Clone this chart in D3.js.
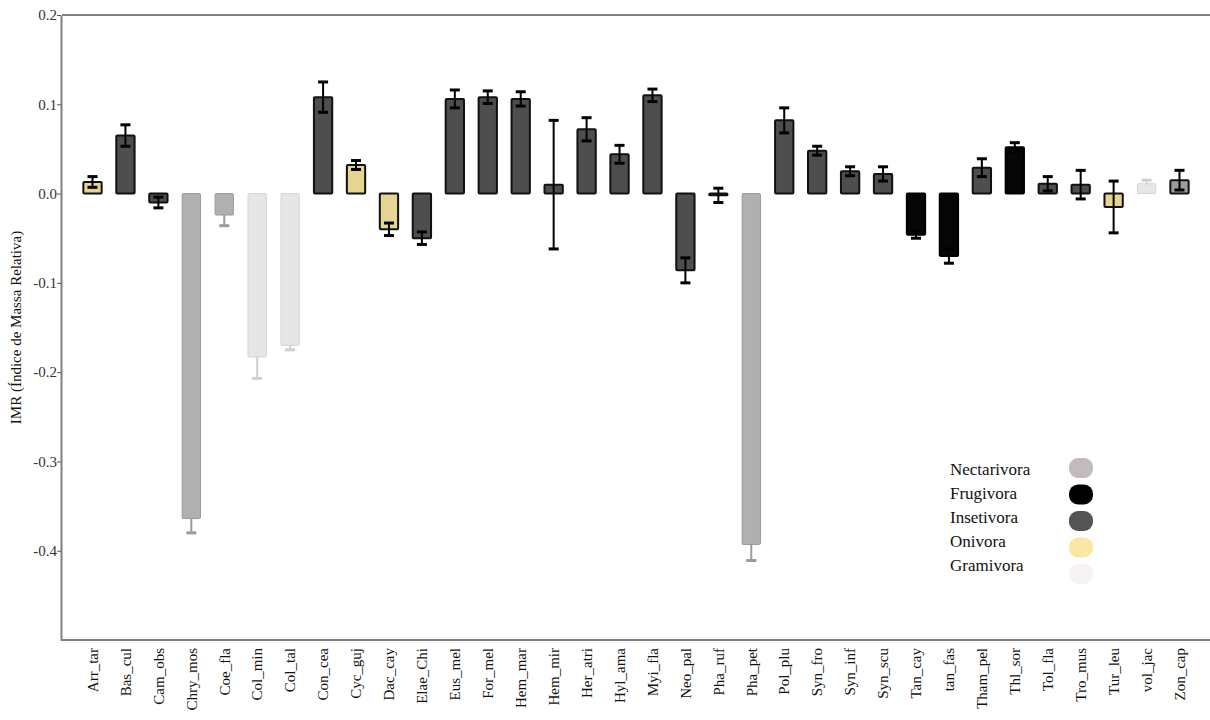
<!DOCTYPE html>
<html>
<head>
<meta charset="utf-8">
<script src="https://cdn.jsdelivr.net/npm/d3@7"></script>
<style>
  body { margin: 0; background: #fff; }
  text { font-family: "Liberation Serif", "DejaVu Serif", serif; }
</style>
</head>
<body>
<div id="chart"></div>
<script>
// species codes, in the order shown on the x axis
const species = ["Arr_tar", "Bas_cul", "Cam_obs", "Chry_mos", "Coe_fla", "Col_min", "Col_tal",
  "Con_cea", "Cyc_guj", "Dac_cay", "Elae_Chi", "Eus_mel", "For_mel", "Hem_mar", "Hem_mir",
  "Her_atri", "Hyl_ama", "Myi_fla", "Neo_pal", "Pha_ruf", "Pha_pet", "Pol_plu", "Syn_fro",
  "Syn_inf", "Syn_scu", "Tan_cay", "tan_fas", "Tham_pel", "Thl_sor", "Tol_fla", "Tro_mus",
  "Tur_leu", "vol_jac", "Zon_cap"];

// mean IMR per species
const imr = [0.013, 0.065, -0.010, -0.364, -0.024, -0.183, -0.170,
  0.108, 0.032, -0.040, -0.050, 0.106, 0.108, 0.106, 0.010,
  0.072, 0.044, 0.110, -0.086, -0.002, -0.393, 0.082, 0.048,
  0.025, 0.022, -0.046, -0.070, 0.029, 0.052, 0.011, 0.010,
  -0.015, 0.011, 0.015];

// error (half-length of the whisker)
const err = [0.006, 0.012, 0.006, 0.016, 0.012, 0.024, 0.005,
  0.017, 0.005, 0.007, 0.007, 0.010, 0.007, 0.008, 0.072,
  0.013, 0.010, 0.007, 0.014, 0.008, 0.018, 0.014, 0.005,
  0.005, 0.008, 0.004, 0.008, 0.010, 0.005, 0.008, 0.016,
  0.029, 0.004, 0.011];

// feeding guild of each species
const guild = ["Onivora", "Insetivora", "Insetivora", "Nectarivora", "Nectarivora", "Gramivora", "Gramivora",
  "Insetivora", "Onivora", "Onivora", "Insetivora", "Insetivora", "Insetivora", "Insetivora", "Insetivora",
  "Insetivora", "Insetivora", "Insetivora", "Insetivora", "Insetivora", "Nectarivora", "Insetivora", "Insetivora",
  "Insetivora", "Insetivora", "Frugivora", "Frugivora", "Insetivora", "Frugivora", "Insetivora", "Insetivora",
  "Onivora", "Gramivora", "Nectarivora"];

const guilds = ["Nectarivora", "Frugivora", "Insetivora", "Onivora", "Gramivora"];
const yTicks = [0.2, 0.1, 0.0, -0.1, -0.2, -0.3, -0.4];

const width = 1210, height = 720;
const margin = { top: 15, right: 0, bottom: 80, left: 61 };

// colours
const barFill = d3.scaleOrdinal().domain(guilds)
  .range(["#b0b0b0", "#060606", "#4e4e4e", "#e6d592", "#e6e6e6"]);
const barStroke = d3.scaleOrdinal().domain(guilds)
  .range(["#9a9a9a", "#000", "#111", "#111", "#d4d4d4"]);
const legendFill = d3.scaleOrdinal().domain(guilds)
  .range(["#c3bbbb", "#000", "#555555", "#f8e8a2", "#f8f3f3"]);

const data = species.map((s, i) => ({ name: s, value: imr[i], err: err[i], guild: guild[i] }));
const isLight = d => (d.guild === "Nectarivora" || d.guild === "Gramivora") && d.name !== "Zon_cap";

const svg = d3.select("#chart").append("svg")
  .attr("width", width)
  .attr("height", height);

const x = d3.scaleBand()
  .domain(species)
  .range([margin.left + 1, width])
  .paddingInner(0.444)
  .paddingOuter(0.648);

const y = d3.scaleLinear()
  .domain([-0.5, 0.2])
  .range([height - margin.bottom, margin.top]);

const axisColor = "#808080";

// frame: top line
svg.append("line")
  .attr("x1", x.range()[0]).attr("x2", width)
  .attr("y1", y(0.2)).attr("y2", y(0.2))
  .attr("stroke", axisColor).attr("stroke-width", 2);

// y axis
const yAxis = svg.append("g")
  .attr("transform", `translate(${margin.left},0)`)
  .call(d3.axisLeft(y).tickValues(yTicks).tickSize(4).tickFormat(d => d.toFixed(1)).tickSizeOuter(0));
yAxis.select(".domain").attr("stroke", axisColor).attr("stroke-width", 2);
yAxis.selectAll(".tick line").attr("stroke", "#555");
yAxis.selectAll(".tick text")
  .attr("font-size", 15).attr("fill", "#333")
  .attr("x", -4);

// x axis
const xAxis = svg.append("g")
  .attr("transform", `translate(0,${y(-0.5)})`)
  .call(d3.axisBottom(x).tickSize(0).tickSizeOuter(0));
xAxis.select(".domain").attr("stroke", axisColor).attr("stroke-width", 2)
  .attr("d", `M${margin.left},0H${width}`);
xAxis.selectAll(".tick text")
  .attr("font-size", 15).attr("fill", "#111")
  .attr("transform", "rotate(-90)")
  .attr("text-anchor", "end")
  .attr("x", -8).attr("y", 0)
  .attr("dy", "0.35em");

// y label
svg.append("text")
  .attr("transform", "rotate(-90)")
  .attr("x", -y(-0.15))
  .attr("y", 21)
  .attr("text-anchor", "middle")
  .attr("font-size", 15)
  .attr("fill", "#111")
  .text("IMR (Índice de Massa Relativa)");

// error bars (light guilds sit behind their bars, dark ones in front)
const errColor = d => d.guild === "Nectarivora" && d.name !== "Zon_cap" ? "#9a9a9a"
  : d.guild === "Gramivora" ? "#cfcfcf" : "#000";
const cx = d => x(d.name) + x.bandwidth() / 2;
const capW = 5;

function drawErrors(g, rows) {
  const eb = g.selectAll("g")
    .data(rows)
    .enter().append("g")
    .attr("stroke", errColor)
    .attr("stroke-width", 2);
  eb.append("line")
    .attr("x1", cx).attr("x2", cx)
    .attr("y1", d => y(d.value + d.err))
    .attr("y2", d => y(d.value - d.err));
  eb.append("line")
    .attr("x1", d => cx(d) - capW).attr("x2", d => cx(d) + capW)
    .attr("y1", d => y(d.value + d.err)).attr("y2", d => y(d.value + d.err))
    .attr("stroke-width", 3);
  eb.append("line")
    .attr("x1", d => cx(d) - capW).attr("x2", d => cx(d) + capW)
    .attr("y1", d => y(d.value - d.err)).attr("y2", d => y(d.value - d.err))
    .attr("stroke-width", 3);
}

drawErrors(svg.append("g"), data.filter(isLight));

// bars
const strokeOf = d => d.name === "Zon_cap" ? "#111" : barStroke(d.guild);
const fillOf = d => d.name === "Zon_cap" ? "#9c9c9c" : barFill(d.guild);

svg.append("g").selectAll("rect")
  .data(data)
  .enter().append("rect")
  .attr("x", d => x(d.name))
  .attr("y", d => y(Math.max(0, d.value)))
  .attr("width", x.bandwidth())
  .attr("height", d => Math.abs(y(d.value) - y(0)))
  .attr("fill", fillOf)
  .attr("stroke", strokeOf)
  .attr("stroke-width", d => isLight(d) ? 1 : 2)
  .attr("rx", 1);

drawErrors(svg.append("g"), data.filter(d => !isLight(d)));

// legend
const legend = svg.append("g").attr("transform", "translate(950,468)");
const lg = legend.selectAll("g")
  .data(guilds)
  .enter().append("g")
  .attr("transform", (d, i) => `translate(0,${i * 24})`);
lg.append("text")
  .attr("x", 0).attr("y", 7)
  .attr("font-size", 17)
  .attr("fill", "#111")
  .text(d => d);
lg.append("rect")
  .attr("x", 119).attr("y", (d, i) => -10 + i * 2.5)
  .attr("width", 24).attr("height", 20)
  .attr("rx", 9)
  .attr("fill", d => legendFill(d));
</script>
</body>
</html>
